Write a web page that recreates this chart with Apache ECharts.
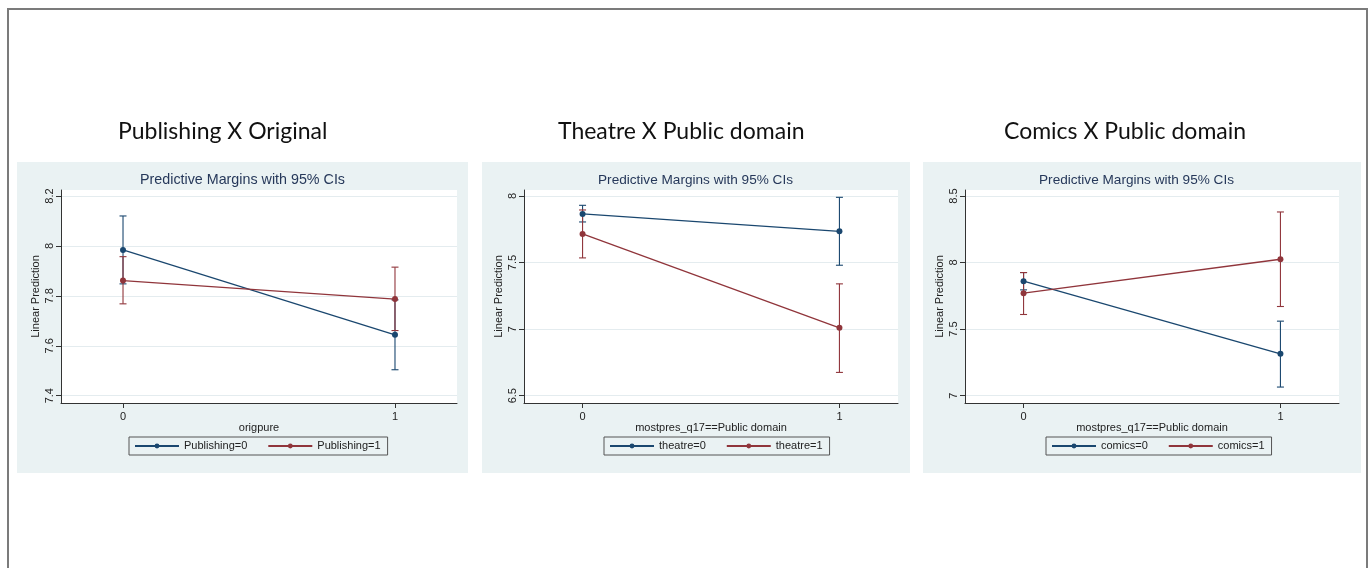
<!DOCTYPE html>
<html><head><meta charset="utf-8">
<script src="https://cdn.jsdelivr.net/npm/echarts@6/dist/echarts.min.js"></script>
<style>html,body{margin:0;padding:0;background:#fff}#c{width:1370px;height:568px}</style>
</head><body><div id="c"></div>
<script>
// ---------------- data ----------------
const headings = ['Publishing X Original', 'Theatre X Public domain', 'Comics X Public domain'];
const subTitle = 'Predictive Margins with 95% CIs';
const xNames = ['origpure', 'mostpres_q17==Public domain', 'mostpres_q17==Public domain'];
const yName = 'Linear Prediction';
const xCategories = [0, 1];
const legendNames = [['Publishing=0', 'Publishing=1'], ['theatre=0', 'theatre=1'], ['comics=0', 'comics=1']];
const yTicks1 = [7.4, 7.6, 7.8, 8, 8.2];
const yTicks2 = [6.5, 7, 7.5, 8];
const yTicks3 = [7, 7.5, 8, 8.5];

// Panel 1: Publishing X Original
const pubMean0 = [7.984, 7.644];
const pubLow0  = [7.848, 7.504];
const pubHigh0 = [8.120, 7.784];
const pubMean1 = [7.861, 7.787];
const pubLow1  = [7.768, 7.661];
const pubHigh1 = [7.957, 7.915];
// Panel 2: Theatre X Public domain
const theMean0 = [7.865, 7.735];
const theLow0  = [7.805, 7.480];
const theHigh0 = [7.930, 7.990];
const theMean1 = [7.715, 7.010];
const theLow1  = [7.535, 6.675];
const theHigh1 = [7.895, 7.340];
// Panel 3: Comics X Public domain
const comMean0 = [7.860, 7.315];
const comLow0  = [7.795, 7.065];
const comHigh0 = [7.925, 7.560];
const comMean1 = [7.770, 8.025];
const comLow1  = [7.610, 7.670];
const comHigh1 = [7.925, 8.380];

// ---------------- layout / style ----------------
const NAVY = '#1a476f', MAROON = '#90353b';
const FONT = '"Liberation Sans", Arial, sans-serif';
const panels = [
  { bx: 17,  bw: 451, gl: 61,  gw: 396, tc: 242.5, tsize: 14.3, hx: 118,  lg: 129,  ticks: yTicks1,
    s: [[pubMean0, pubLow0, pubHigh0], [pubMean1, pubLow1, pubHigh1]] },
  { bx: 482, bw: 428, gl: 524, gw: 374, tc: 695.5, tsize: 13.6, hx: 558,  lg: 604,  ticks: yTicks2,
    s: [[theMean0, theLow0, theHigh0], [theMean1, theLow1, theHigh1]] },
  { bx: 923, bw: 438, gl: 965, gw: 374, tc: 1136.5, tsize: 13.6, hx: 1004, lg: 1046, ticks: yTicks3,
    s: [[comMean0, comLow0, comHigh0], [comMean1, comLow1, comHigh1]] }
];
const PANEL_TOP = 162, PANEL_H = 311, GRID_TOP = 190, GRID_H = 213;

function renderCI(params, api) {
  const x = api.value(0), lo = api.value(1), hi = api.value(2);
  const p1 = api.coord([x, lo]), p2 = api.coord([x, hi]);
  const hw = 3.5;
  const style = { stroke: api.visual('color'), lineWidth: 1.1, fill: null };
  return { type: 'group', children: [
    { type: 'line', shape: { x1: p1[0], y1: p1[1], x2: p2[0], y2: p2[1] }, style: style },
    { type: 'line', shape: { x1: p1[0] - hw, y1: p1[1], x2: p1[0] + hw, y2: p1[1] }, style: style },
    { type: 'line', shape: { x1: p2[0] - hw, y1: p2[1], x2: p2[0] + hw, y2: p2[1] }, style: style }
  ]};
}

const grid = [], xAxis = [], yAxis = [], series = [], legend = [], graphic = [];

// outer frame (left, top, right)
graphic.push({ type: 'polyline', z: 10, shape: { points: [[8, 568], [8, 9], [1367, 9], [1367, 568]] },
  style: { stroke: '#7b7b7b', lineWidth: 2, fill: null } });

panels.forEach((p, i) => {
  const lo = p.ticks[0], hi = p.ticks[p.ticks.length - 1], span = hi - lo;
  graphic.push({ type: 'rect', z: -10, shape: { x: p.bx, y: PANEL_TOP, width: p.bw, height: PANEL_H },
    style: { fill: '#eaf2f3' } });
  graphic.push({ type: 'text', x: p.hx, y: 132, z: 5,
    style: { text: headings[i], font: '23px Lato, "Open Sans", sans-serif', fill: '#111',
      textAlign: 'left', textVerticalAlign: 'middle' } });
  graphic.push({ type: 'text', x: p.tc, y: 180, z: 5,
    style: { text: subTitle, font: p.tsize + 'px ' + FONT, fill: '#26385a',
      textAlign: 'center', textVerticalAlign: 'middle' } });

  grid.push({ left: p.gl, top: GRID_TOP, width: p.gw, height: GRID_H, show: true,
    backgroundColor: '#ffffff', borderWidth: 0, containLabel: false });

  xAxis.push({ type: 'value', gridIndex: i, min: -0.228, max: 1.228,
    name: xNames[i], nameLocation: 'middle', nameGap: 19,
    nameTextStyle: { fontFamily: FONT, fontSize: 11, color: '#222' },
    axisLine: { show: true, onZero: false, lineStyle: { color: '#333', width: 1 } },
    axisTick: { show: true, length: 5, customValues: xCategories, lineStyle: { color: '#333' } },
    axisLabel: { customValues: xCategories, fontFamily: FONT, fontSize: 11, color: '#222', margin: 8 },
    splitLine: { show: false } });

  yAxis.push({ type: 'value', gridIndex: i,
    min: lo - span * 7.3 / 200, max: hi + span * 6 / 200,
    name: yName, nameLocation: 'middle', nameGap: 19.5, nameRotate: 90,
    nameTextStyle: { fontFamily: FONT, fontSize: 11, color: '#222' },
    axisLine: { show: true, onZero: false, lineStyle: { color: '#333', width: 1 } },
    axisTick: { show: true, length: 5, customValues: p.ticks, lineStyle: { color: '#333' } },
    axisLabel: { customValues: p.ticks, rotate: 90, fontFamily: FONT, fontSize: 11, color: '#222', margin: 6 },
    splitLine: { show: true, lineStyle: { color: '#e4ecef', width: 1 } } });

  const colors = [NAVY, MAROON];
  // CIs first
  p.s.forEach((d, k) => {
    series.push({ type: 'custom', name: 'ci' + i + k, xAxisIndex: i, yAxisIndex: i,
      itemStyle: { color: colors[k] }, renderItem: renderCI,
      encode: { x: 0, y: [1, 2] }, silent: true,
      data: xCategories.map((x, j) => [x, d[1][j], d[2][j]]) });
  });
  p.s.forEach((d, k) => {
    series.push({ type: 'line', name: legendNames[i][k], xAxisIndex: i, yAxisIndex: i,
      color: colors[k], symbol: 'circle', symbolSize: 6, showSymbol: true,
      lineStyle: { color: colors[k], width: 1.3 }, itemStyle: { color: colors[k] },
      data: xCategories.map((x, j) => [x, d[0][j]]) });
  });

  legend.push({ data: legendNames[i], left: p.lg, top: 437, orient: 'horizontal',
    itemWidth: 44, itemHeight: 6, itemGap: 20, padding: [3.5, 7, 3.5, 5],
    borderColor: '#555', borderWidth: 1, borderRadius: 0, backgroundColor: 'transparent',
    selectedMode: false,
    textStyle: { fontFamily: FONT, fontSize: 11, color: '#222' } });
});

const chart = echarts.init(document.getElementById('c'), null, { renderer: 'canvas' });
chart.setOption({ backgroundColor: '#ffffff', animation: false,
  grid, xAxis, yAxis, series, legend, graphic });
</script></body></html>
